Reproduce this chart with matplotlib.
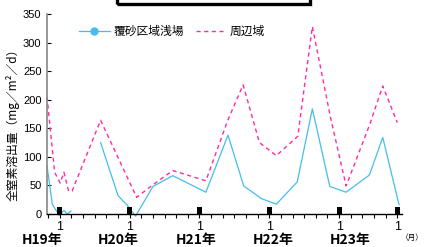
import matplotlib
matplotlib.use("Agg")
import matplotlib.pyplot as plt
from matplotlib.lines import Line2D
from matplotlib.patches import Rectangle
import matplotlib.transforms as mtransforms

# month positions (0 = H19 Jan) and total nitrogen release rates
shallow_x = [-2.2, -1.3, -0.1, 0.7, 1.3, 1.9, 7.0, 10.0, 11.6, 13.0, 16.0, 19.4,
             25.1, 28.9, 31.6, 34.6, 37.2, 40.8, 43.4, 46.4, 49.2, 53.2, 55.5, 58.3]
shallow_y = [84, 17, -3, 6, 0, 5, 125, 32, 15, -4, 48, 67,
             38, 138, 49, 27, 17, 56, 184, 48, 38, 68, 134, 16]
# gap in the covered-sand series between the early points and the 7th
shallow_seg = [6, 24]

around_x = [-2.2, -0.9, 0.05, 0.7, 1.5, 2.1, 7.0, 13.2, 16.0, 19.4,
            25.1, 28.9, 31.5, 34.3, 37.2, 40.9, 43.4, 46.5, 49.2, 53.2, 55.5, 58.0]
around_y = [205, 73, 54, 73, 40, 40, 164, 29, 51, 76,
            58, 165, 226, 125, 102, 136, 328, 170, 49, 155, 224, 160]

jan_x = [0, 12, 24, 36, 48, 58]
year_x = [-3.1, 10.0, 23.5, 36.7, 49.9]
year_labels = ['H19年', 'H20年', 'H21年', 'H22年', 'H23年']

blue = '#45BDEE'
pink = '#FF2BA6'
jp = ['Noto Sans CJK JP', 'DejaVu Sans']
narrow = ['Liberation Sans Narrow', 'Liberation Sans', 'DejaVu Sans']

fig = plt.figure(figsize=(4.24, 2.47), dpi=100)
ax = fig.add_axes([0.111, 0.134, 0.837, 0.809])

ax.plot(shallow_x[:shallow_seg[0]], shallow_y[:shallow_seg[0]], color=blue, lw=0.9, clip_on=False)
ax.plot(shallow_x[shallow_seg[0]:], shallow_y[shallow_seg[0]:], color=blue, lw=0.9, clip_on=False)
ax.plot(around_x, around_y, color=pink, lw=1.0, ls=(0, (3, 2.5)), clip_on=False)

# black markers on the January positions
ax.bar(jan_x, 12, width=0.9, bottom=0, color='k', zorder=3, clip_on=False)

ax.set_xlim(-2.2, 58.8)
ax.set_ylim(0, 350)
ax.set_yticks(range(0, 351, 50))
ax.set_yticklabels([str(v) for v in range(0, 351, 50)], family=narrow, fontsize=8)
ax.tick_params(axis='y', direction='in', length=3, width=0.8, pad=4)

xt = list(range(-2, 59, 2))
ax.set_xticks(xt)
ax.set_xticklabels(['1' if t in jan_x else '' for t in xt], family='Liberation Sans', fontsize=9)
ax.tick_params(axis='x', direction='out', length=3, width=0.8, pad=2)

ax.spines['top'].set_visible(False)
ax.spines['right'].set_visible(False)
ax.spines['left'].set_color('#888888')
ax.spines['left'].set_linewidth(1.2)
ax.spines['bottom'].set_linewidth(1.0)

trans = mtransforms.blended_transform_factory(ax.transData, ax.transAxes)
for xv, lab in zip(year_x, year_labels):
    ax.text(xv, -0.13, lab, transform=trans, ha='center', va='center',
            fontsize=10, fontweight='bold', family=jp)
fig.text(412 / 424, 1 - 238 / 247, '（月）', ha='center', va='center', fontsize=5.5, family=jp)

ax.set_ylabel('全窒素溶出量（mg／m²／d）', family=jp, fontsize=8.5)
ax.yaxis.set_label_coords(-0.078, 0.46)

handles = [Line2D([], [], color=blue, lw=0.9, marker='o', markersize=5),
           Line2D([], [], color=pink, lw=1.0, ls=(0, (3, 2.5)))]
ax.legend(handles, ['覆砂区域浅場', '周辺域'], loc='upper left', bbox_to_anchor=(0.06, 1.0),
          ncol=2, frameon=False, prop={'family': jp, 'size': 8.5},
          handlelength=2.6, columnspacing=1.0, handletextpad=0.3)

# cut-off title box at the top of the figure
fig.patches.append(Rectangle((117 / 424, 1 - 4 / 247), (310 - 117) / 424, 0.2,
                             transform=fig.transFigure, fill=False, ec='k', lw=2.4))

fig.savefig('out.png', dpi=100)
